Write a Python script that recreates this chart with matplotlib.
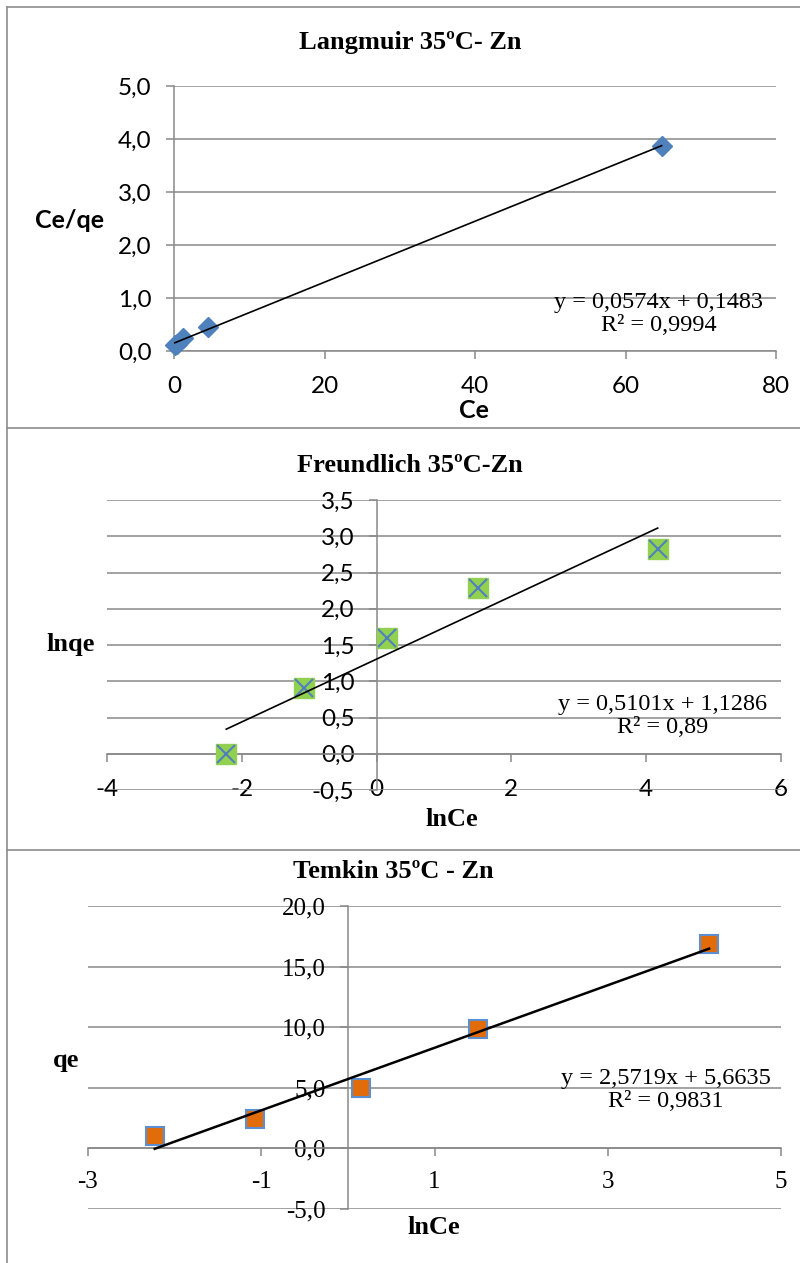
import numpy as np
import matplotlib.pyplot as plt
from matplotlib.lines import Line2D
from matplotlib.ticker import FuncFormatter

# Zn, 35 C isotherm data
ce = [0.11, 0.34, 1.17, 4.48, 64.8]
ce_qe = [0.11, 0.14, 0.24, 0.46, 3.87]
ln_ce = [-2.23, -1.07, 0.15, 1.50, 4.17]
ln_qe = [0.0, 0.91, 1.60, 2.29, 2.82]
qe = [1.0, 2.45, 4.95, 9.85, 16.85]

lang_xticks = [0, 20, 40, 60, 80]
lang_yticks = [0, 1, 2, 3, 4, 5]
freu_xticks = [-4, -2, 0, 2, 4, 6]
freu_yticks = [-0.5, 0, 0.5, 1, 1.5, 2, 2.5, 3, 3.5]
temk_xticks = [-3, -1, 1, 3, 5]
temk_yticks = [-5, 0, 5, 10, 15, 20]

lang_eq = "y = 0,0574x + 0,1483\nR² = 0,9994"
freu_eq = "y = 0,5101x + 1,1286\nR² = 0,89"
temk_eq = "y = 2,5719x + 5,6635\nR² = 0,9831"

SANS = 'Lato'
SERIF = 'Liberation Serif'
GRAY = '#898989'
W, H = 800, 1263

fig = plt.figure(figsize=(8, 12.63), dpi=100)


def px(x, y):
    return x / W, 1 - y / H


def comma(fmt):
    return FuncFormatter(lambda v, p: format(v, fmt).replace('.', ','))


def setupAxes(rect, xlim, ylim, xticks, yticks, tickfont, size, xpad):
    ax = fig.add_axes(rect)
    ax.set_xlim(xlim)
    ax.set_ylim(ylim)
    ax.set_xticks(xticks)
    ax.set_yticks(yticks)
    ax.xaxis.set_major_formatter(comma('.0f'))
    ax.yaxis.set_major_formatter(comma('.1f'))
    ax.spines['top'].set_visible(False)
    ax.spines['right'].set_visible(False)
    ax.spines['left'].set_position(('data', 0))
    ax.spines['bottom'].set_position(('data', 0))
    for s in ['left', 'bottom']:
        ax.spines[s].set_color(GRAY)
        ax.spines[s].set_linewidth(1.1)
    ax.grid(axis='y', color=GRAY, linewidth=1.1)
    ax.set_axisbelow(True)
    ax.tick_params(direction='out', length=6, width=1.1, color=GRAY,
                   labelsize=size)
    ax.tick_params(axis='y', pad=10)
    ax.tick_params(axis='x', pad=xpad)
    for lab in ax.get_xticklabels() + ax.get_yticklabels():
        lab.set_family(tickfont)
    ax.patch.set_alpha(0)
    return ax


def trend(ax, x, y, lw):
    k, b = np.polyfit(x, y, 1)
    xs = np.array([min(x), max(x)])
    ax.plot(xs, k * xs + b, color='black', linewidth=lw, zorder=5,
            clip_on=False)


def rect(l, t, r, b):
    return [l / W, 1 - b / H, (r - l) / W, (b - t) / H]


# Langmuir
ax1 = setupAxes(rect(174, 86, 776, 351), (0, 80), (0, 5), lang_xticks,
                lang_yticks, SANS, 17.5, 12)
ax1.plot(ce, ce_qe, 'D', color='#4F81BD', markersize=10, zorder=4,
         clip_on=False)
trend(ax1, ce, ce_qe, 1.2)

# Freundlich
ax2 = setupAxes(rect(107, 500, 781, 790), (-4, 6), (-0.5, 3.5), freu_xticks,
                freu_yticks, SANS, 17.5, 12)
ax2.plot(ln_ce, ln_qe, 's', color='#92D050', markersize=14, zorder=3)
ax2.plot(ln_ce, ln_qe, 'x', color='#4F81BD', markersize=13,
         markeredgewidth=1.5, zorder=4)
trend(ax2, ln_ce, ln_qe, 1.2)

# Temkin
ax3 = setupAxes(rect(88, 906, 781, 1209), (-3, 5), (-5, 20), temk_xticks,
                temk_yticks, SERIF, 18, 10)
ax3.plot(ln_ce, qe, 's', color='#E36C0A', markeredgecolor='#5B8FD0',
         markeredgewidth=1.5, markersize=13, zorder=4)
trend(ax3, ln_ce, qe, 1.8)

# titles, axis labels and trendline equations
texts = [
    ("Langmuir 35ºC- Zn", 410, 43, SERIF, 'bold', 19),
    ("Ce/qe", 69, 220, SANS, 'bold', 18),
    ("Ce", 474, 410, SANS, 'bold', 18),
    ("Freundlich 35ºC-Zn", 410, 465, SERIF, 'bold', 19),
    ("lnqe", 71, 645, SERIF, 'bold', 19),
    ("lnCe", 452, 820, SERIF, 'bold', 19),
    ("Temkin 35ºC - Zn", 393, 872, SERIF, 'bold', 19),
    ("qe", 66, 1060, SERIF, 'bold', 19),
    ("lnCe", 434, 1228, SERIF, 'bold', 19),
]
for s, x, y, fam, wt, size in texts:
    fig.text(*px(x, y), s, ha='center', va='center', family=fam,
             weight=wt, fontsize=size)

for s, x, y in [(lang_eq, 659, 314), (freu_eq, 663, 716), (temk_eq, 666, 1090)]:
    fig.text(*px(x, y), s, ha='center', va='center', family=SERIF,
             fontsize=17.5, linespacing=1.1, multialignment='center')

# table cell borders around the three charts
border = dict(color='#8c8c8c', linewidth=1.2, transform=fig.transFigure)
fig.add_artist(Line2D([7 / W, 7 / W], [1 - 7 / H, 0], **border))
for yy in [7, 428, 850]:
    fig.add_artist(Line2D([7 / W, 1], [1 - yy / H, 1 - yy / H], **border))

fig.savefig('out.png', dpi=100)
plt.close()
